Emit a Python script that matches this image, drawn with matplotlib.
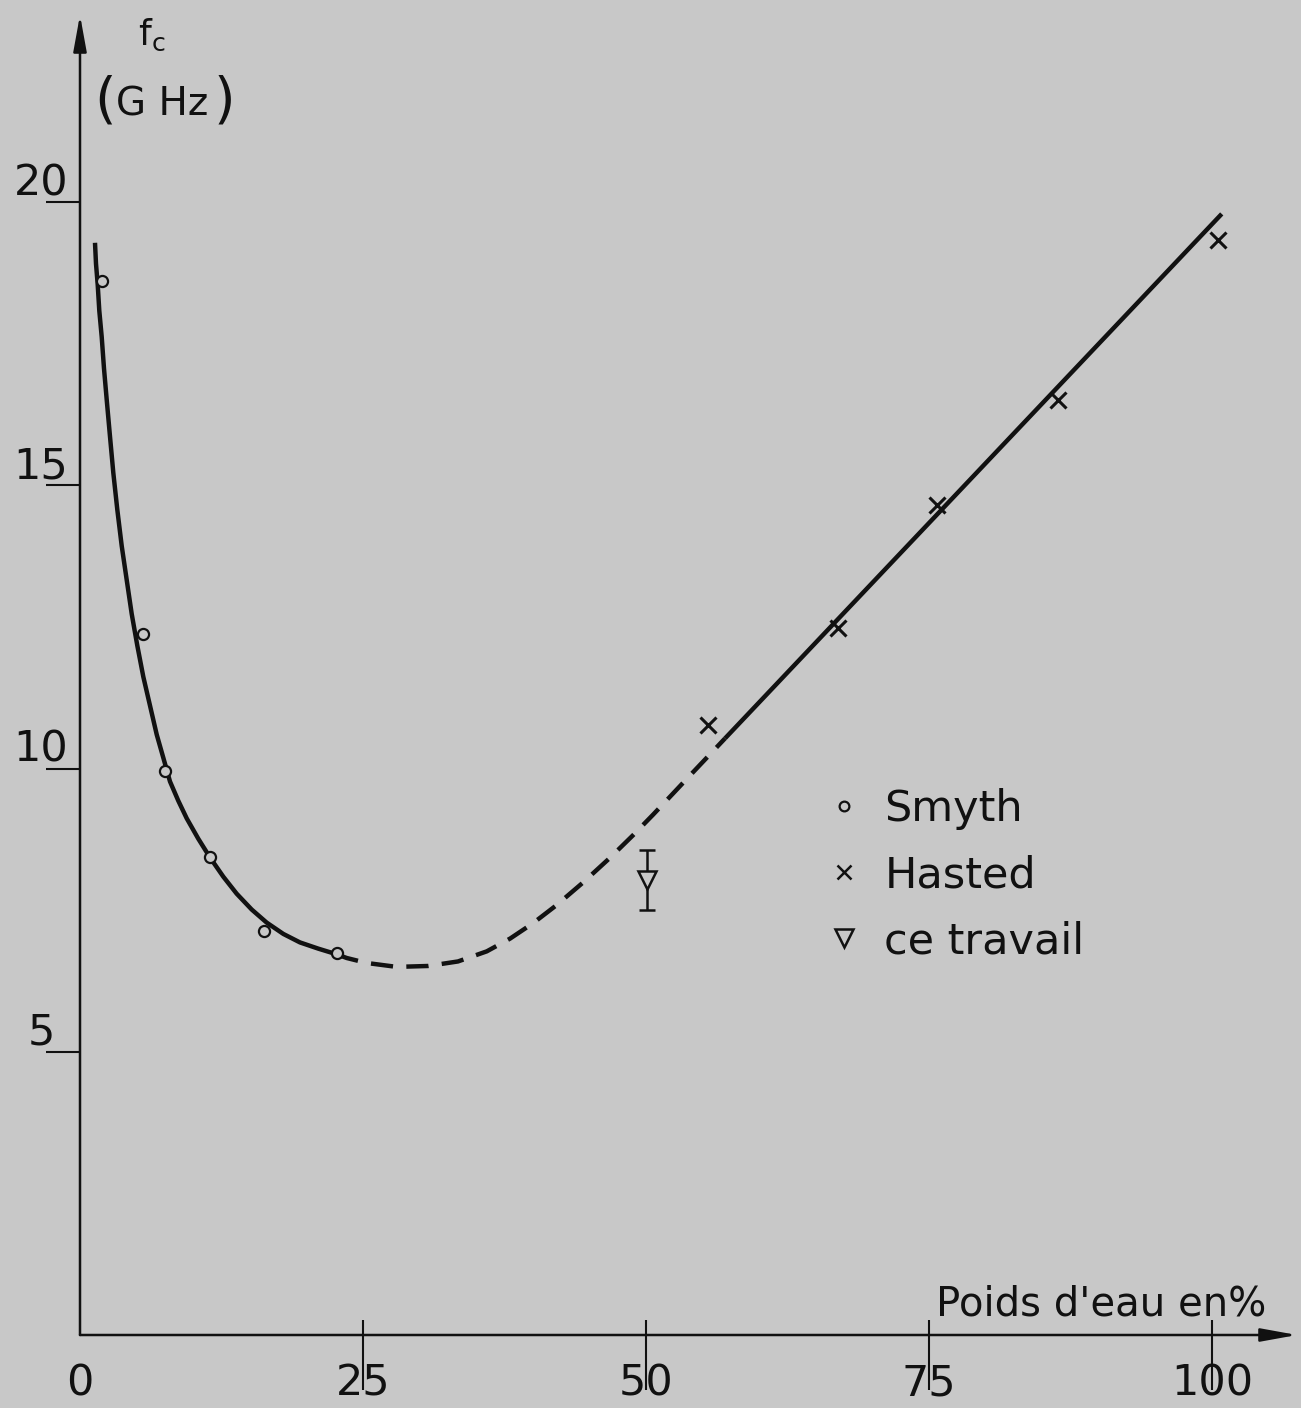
import matplotlib
matplotlib.use("Agg")
import matplotlib.pyplot as plt
from matplotlib.lines import Line2D
from matplotlib.transforms import ScaledTranslation

# --- data -------------------------------------------------------------------
smyth_x = [1.92, 5.59, 7.51, 11.48, 16.25, 22.68]
smyth_y = [18.61, 12.38, 9.96, 8.44, 7.14, 6.75]

hasted_x = [55.5, 66.99, 75.68, 86.4, 100.5]
hasted_y = [10.77, 12.48, 14.65, 16.5, 19.33]

travail_x = [50.06]
travail_y = [8.03]
travail_err = [0.53]

# fitted curve, solid part (low water content)
curve_x = [1.325, 1.413, 1.564, 1.705, 1.917, 2.120, 2.359, 2.650, 2.942, 3.295,
           3.684, 4.125, 4.567, 5.062, 5.592, 6.184, 6.776, 7.359, 7.951, 8.684,
           9.426, 10.45, 11.48, 12.66, 13.84, 15.17, 16.49, 17.96, 19.43, 21.05,
           22.68]
curve_y = [19.28, 18.91, 18.54, 18.08, 17.62, 17.06, 16.51, 15.86, 15.22, 14.57,
           13.93, 13.33, 12.73, 12.17, 11.62, 11.11, 10.60, 10.19, 9.77, 9.43,
           9.12, 8.76, 8.43, 8.09, 7.79, 7.51, 7.28, 7.08, 6.93, 6.82,
           6.72]
# extrapolated (dashed) part
dash_x = [22.68, 23.56, 25.33, 27.98, 30.74, 33.39, 35.93, 37.99, 40.02, 42.11,
          44.43, 46.82, 48.85, 50.62, 52.39, 54.15, 55.92, 56.98]
dash_y = [6.72, 6.655, 6.567, 6.498, 6.514, 6.594, 6.772, 6.997, 7.269, 7.590,
          7.986, 8.424, 8.821, 9.184, 9.559, 9.933, 10.307, 10.531]
# straight line through Hasted points
line_x = [56.98, 100.86]
line_y = [10.531, 19.79]

xticks = [0, 25, 50, 75, 100]
xtick_labels = ["0", "25", "50", "75", "100"]
yticks = [5, 10, 15, 20]
ytick_labels = ["5", "10", "15", "20"]

legend_labels = ["Smyth", "Hasted", "ce travail"]

# --- figure -----------------------------------------------------------------
W, H = 1301, 1408
BG = "#c8c8c8"
INK = "#111111"

fig = plt.figure(figsize=(W / 100, H / 100), dpi=100)
fig.patch.set_facecolor(BG)

# origin at pixel (80, 1335); 11.32 px per % and 56.65 px per GHz
ax = fig.add_axes([80 / W, 73 / H, 1217 / W, 1320 / H])
ax.set_facecolor("none")
ax.set_xlim(0, 1217 / 11.32)
ax.set_ylim(0, 1320 / 56.65)
for s in ax.spines.values():
    s.set_visible(False)
ax.set_xticks([])
ax.set_yticks([])

# axes with arrow heads
arrow = dict(arrowstyle="-|>,head_length=1.1,head_width=0.2", lw=1.8,
             color=INK, mutation_scale=20, shrinkA=0, shrinkB=0)
ax.annotate("", xy=(ax.get_xlim()[1], 0), xytext=(0, 0),
            arrowprops=arrow, annotation_clip=False)
ax.annotate("", xy=(0, ax.get_ylim()[1]), xytext=(0, 0),
            arrowprops=arrow, annotation_clip=False)

# ticks
ax.vlines(xticks[1:], -55 / 1320, 15 / 1320, transform=ax.get_xaxis_transform(),
          colors=INK, lw=1.5, clip_on=False)
ax.hlines(yticks, -34 / 1217, 0, transform=ax.get_yaxis_transform(),
          colors=INK, lw=1.5, clip_on=False)

tick_fs = 31
for xv, lab in zip(xticks, xtick_labels):
    tr = ax.get_xaxis_transform() + ScaledTranslation(0, -0.60, fig.dpi_scale_trans)
    ax.text(xv, 0, lab, transform=tr, ha="center", va="baseline",
            fontsize=tick_fs, color=INK)
for yv, lab in zip(yticks, ytick_labels):
    tr = ax.get_yaxis_transform() + ScaledTranslation(-0.39, 0.07, fig.dpi_scale_trans)
    ax.text(0, yv, lab, transform=tr, ha="center", va="baseline",
            fontsize=tick_fs, color=INK)

# curves
ax.plot(curve_x, curve_y, color=INK, lw=3.2, solid_capstyle="butt",
        solid_joinstyle="round")
ax.plot(dash_x, dash_y, color=INK, lw=3.2, linestyle=(0, (5, 3)),
        dash_capstyle="butt", dash_joinstyle="round")
ax.plot(line_x, line_y, color=INK, lw=3.2, solid_capstyle="butt")

# measured points
ax.plot(smyth_x, smyth_y, ls="none", marker="o", ms=8, mfc=BG, mec=INK, mew=1.6)
ax.plot(hasted_x, hasted_y, ls="none", marker="x", ms=12, mec=INK, mew=2.2)
ax.errorbar(travail_x, travail_y, yerr=travail_err, fmt="v", ms=13, mfc=BG,
            mec=INK, mew=1.8, ecolor=INK, elinewidth=1.8, capsize=6, capthick=1.8)

# legend
handles = [
    Line2D([], [], ls="none", marker="o", ms=7, mfc="none", mec=INK, mew=1.6),
    Line2D([], [], ls="none", marker="x", ms=10, mec=INK, mew=1.8),
    Line2D([], [], ls="none", marker="v", ms=13, mfc="none", mec=INK, mew=1.8),
]
leg = ax.legend(handles, legend_labels, loc="upper left",
                bbox_to_anchor=(822 / W, 1 - 788 / H), bbox_transform=fig.transFigure,
                frameon=False, fontsize=31, handlelength=1.0, handletextpad=0.45,
                labelspacing=0.56, borderpad=0, borderaxespad=0)
for t in leg.get_texts():
    t.set_color(INK)

# axis labels
fig.text(936 / W, 1 - 1316 / H, "Poids d'eau en%", fontsize=29, color=INK,
         ha="left", va="baseline")
fig.text(138 / W, 1 - 45 / H, r"$\mathregular{f_c}$", fontsize=26, color=INK,
         ha="left", va="baseline")
fig.text(94 / W, 1 - 117 / H, "(", fontsize=40, color=INK, ha="left", va="baseline")
fig.text(116 / W, 1 - 115 / H, "G Hz", fontsize=28, color=INK, ha="left", va="baseline")
fig.text(214 / W, 1 - 117 / H, ")", fontsize=40, color=INK, ha="left", va="baseline")

fig.savefig("out.png", dpi=100, facecolor=BG)
